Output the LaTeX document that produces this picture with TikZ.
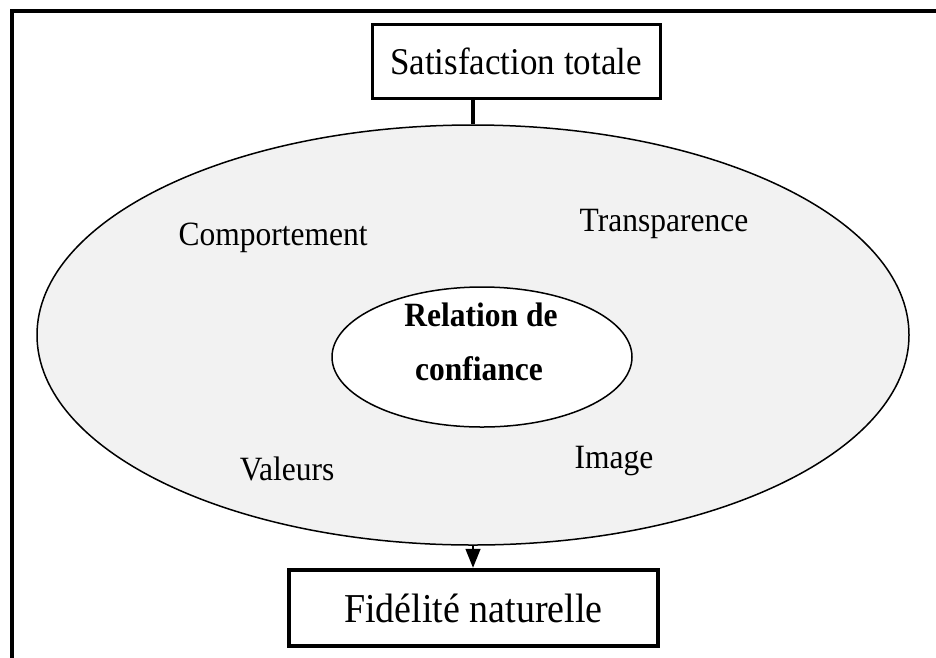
\documentclass[tikz,border=0pt]{standalone}
\usepackage{fontspec}
\setmainfont{Liberation Serif}
\usetikzlibrary{shapes.geometric,arrows.meta}
\definecolor{ringgray}{HTML}{F2F2F2}
% text set slightly taller than its width
\newcommand{\tallText}[1]{\scalebox{1}[1.08]{#1}}
\tikzset{
  boxnode/.style={draw=black, fill=white, rectangle, inner sep=0pt},
  ovalnode/.style={draw=black, ellipse, inner sep=0pt, line width=1.5pt},
  factor/.style={anchor=base, inner sep=0pt, font=\fontsize{31.5}{38}\selectfont},
  coreline/.style={anchor=base, inner sep=0pt, font=\fontsize{31.5}{38}\selectfont\bfseries},
}
\begin{document}
\begin{tikzpicture}[x=1pt, y=-1pt]
  \useasboundingbox (0,0) rectangle (936,657);
  % page frame (top and left edges)
  \draw[line width=4pt] (12,660) -- (12,11) -- (940,11);

  % big grey oval holding the factors
  \node[ovalnode, fill=ringgray, minimum width=872pt, minimum height=420pt] (ring) at (473,335) {};

  % central oval and its two text lines
  \node[ovalnode, fill=white, minimum width=300pt, minimum height=140pt] (core) at (482,357) {};
  \node[coreline] (core1) at (481,326) {\tallText{Relation de}};
  \node[coreline] (core2) at (479,380) {\tallText{confiance}};

  % factor labels
  \node[factor] (comp) at (273,245) {\tallText{Comportement}};
  \node[factor] (trans) at (664,231) {\tallText{Transparence}};
  \node[factor] (val) at (287,480) {\tallText{Valeurs}};
  \node[factor] (img) at (614,468) {\tallText{Image}};

  % top and bottom boxes
  \node[boxnode, line width=3pt, minimum width=288pt, minimum height=74pt,
        font=\fontsize{35}{42}\selectfont] (top) at (516,61) {\tallText{Satisfaction totale}};
  \node[boxnode, line width=4.5pt, minimum width=369pt, minimum height=76pt,
        font=\fontsize{38}{45}\selectfont] (bottom) at (473.5,608) {\tallText{Fidélité naturelle}};

  % connectors
  \draw[line width=4.5pt] (top.south -| ring.north) -- (ring.north);
  \draw[line width=1.5pt, -{Triangle[length=19pt, width=15pt]}] (ring.south) -- (ring.south |- bottom.north);
\end{tikzpicture}
\end{document}
